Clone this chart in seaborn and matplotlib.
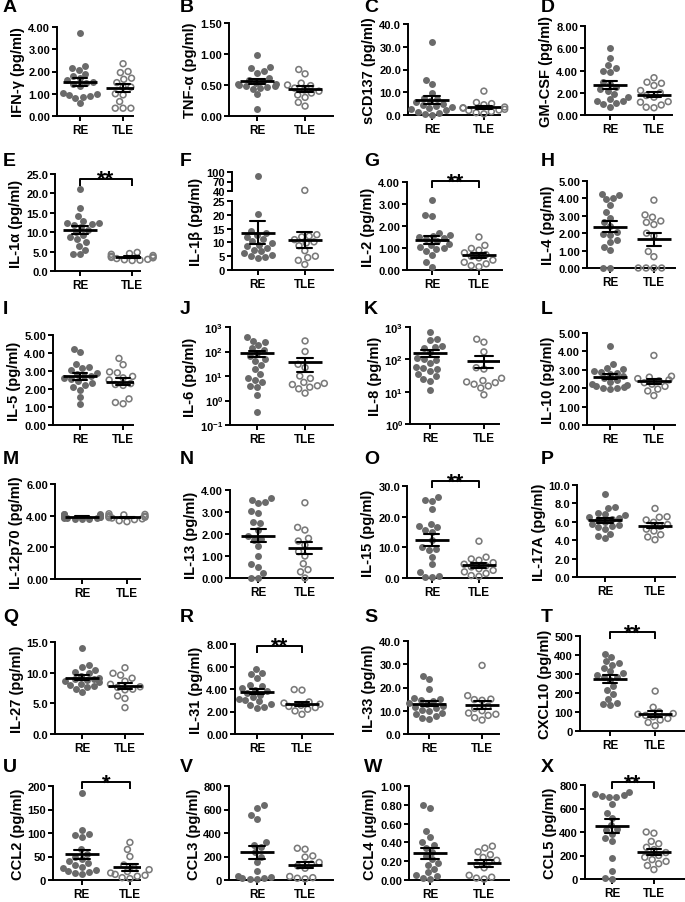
import numpy as np
import pandas as pd
import matplotlib
matplotlib.use("Agg")
import matplotlib.pyplot as plt
import matplotlib.transforms as mtransforms
from matplotlib.ticker import FixedLocator, FixedFormatter, NullLocator
import seaborn as sns

groups = ["RE", "TLE"]

# ---------------- data ----------------
ifng_re = [3.72, 2.25, 2.15, 2.05, 1.90, 1.80, 1.70, 1.60, 1.55, 1.50, 1.45, 1.35, 1.05, 1.00, 0.95, 0.90, 0.85, 0.80, 0.57]
ifng_tle = [2.35, 2.00, 1.95, 1.70, 1.65, 1.50, 1.30, 1.30, 1.00, 0.95, 0.65, 0.35, 0.35, 0.35]
tnfa_re = [0.99, 0.79, 0.77, 0.72, 0.70, 0.62, 0.58, 0.56, 0.54, 0.52, 0.51, 0.50, 0.49, 0.48, 0.47, 0.45, 0.44, 0.35, 0.12]
tnfa_tle = [0.75, 0.68, 0.53, 0.50, 0.49, 0.45, 0.42, 0.40, 0.37, 0.34, 0.30, 0.22, 0.16]
scd137_re = [32.0, 15.5, 13.8, 9.5, 7.5, 7.0, 6.0, 5.5, 5.0, 4.5, 4.0, 3.5, 3.0, 2.5, 2.0, 1.5, 1.0, 0.5, 0.2]
scd137_tle = [10.5, 5.5, 5.0, 4.5, 3.5, 3.2, 3.0, 2.5, 2.2, 2.0, 1.5, 1.0, 0.5]
gmcsf_re = [6.05, 5.10, 4.50, 4.25, 3.95, 3.90, 3.00, 2.80, 2.50, 2.30, 2.20, 1.90, 1.60, 1.40, 1.30, 1.25, 1.10, 1.00, 0.75]
gmcsf_tle = [3.35, 2.95, 2.85, 2.65, 2.20, 2.00, 1.75, 1.60, 1.20, 1.15, 0.90, 0.70, 0.65]
il1a_re = [21.2, 16.3, 14.3, 13.0, 12.5, 12.0, 12.3, 11.8, 11.3, 10.5, 10.0, 9.3, 8.8, 8.2, 7.4, 6.5, 5.5, 4.5, 4.3]
il1a_tle = [4.8, 4.5, 4.3, 4.0, 3.8, 3.6, 3.5, 3.4, 3.2, 3.0, 2.9, 2.8, 2.7]
il1b_re = [88, 20.3, 14.2, 13.5, 12.8, 12.0, 11.2, 10.5, 9.8, 9.2, 8.6, 8.0, 7.4, 6.8, 6.0, 5.5, 5.0, 4.8, 4.5]
il1b_tle = [42, 12.8, 12.0, 12.3, 11.0, 10.2, 9.8, 8.8, 7.0, 5.0, 4.5, 3.5, 2.0]
il2_re = [3.20, 2.50, 2.45, 1.70, 1.60, 1.55, 1.50, 1.45, 1.40, 1.30, 1.20, 1.15, 1.05, 1.00, 0.95, 0.85, 0.70, 0.35, 0.15]
il2_tle = [1.50, 1.12, 0.98, 0.90, 0.78, 0.70, 0.62, 0.55, 0.45, 0.35, 0.28, 0.20, 0.15]
il4_re = [4.28, 4.20, 4.02, 3.95, 3.62, 3.22, 2.90, 2.65, 2.40, 2.05, 1.95, 1.90, 1.60, 1.50, 1.22, 1.02, 0.0, 0.0]
il4_tle = [3.90, 3.05, 2.92, 2.70, 2.62, 2.50, 2.00, 1.85, 0.95, 0.65, 0.0, 0.0, 0.0, 0.0]
il5_re = [4.25, 4.05, 3.40, 3.25, 3.15, 3.05, 2.90, 2.85, 2.75, 2.70, 2.60, 2.55, 2.45, 2.35, 2.25, 2.10, 1.95, 1.55, 1.15]
il5_tle = [3.70, 3.35, 2.95, 2.90, 2.70, 2.62, 2.50, 2.30, 2.25, 2.20, 1.45, 1.25, 1.18]
il6_re = [380, 280, 250, 180, 140, 110, 90, 65, 50, 40, 28, 20, 12, 8.5, 7.0, 5.5, 4.0, 3.5, 1.7, 0.35]
il6_tle = [270, 100, 30, 22, 10, 8, 5.5, 5, 4.5, 4.0, 3.5, 3.0, 2.0]
il8_re = [700, 420, 400, 260, 240, 220, 170, 110, 100, 95, 75, 60, 55, 50, 45, 35, 30, 25, 22, 11]
il8_tle = [420, 340, 170, 55, 50, 26, 22, 20, 19, 17, 15, 13, 8]
il10_re = [4.32, 3.32, 3.10, 3.05, 2.95, 2.90, 2.85, 2.75, 2.65, 2.55, 2.45, 2.35, 2.25, 2.20, 2.10, 2.05, 2.02, 2.00, 1.95]
il10_tle = [3.78, 2.65, 2.60, 2.52, 2.45, 2.40, 2.30, 2.22, 2.10, 1.95, 1.85, 1.60]
il12_re = [4.12, 4.10, 4.08, 4.05, 4.02, 4.00, 3.98, 3.97, 3.96, 3.95, 3.93, 3.92, 3.90, 3.88, 3.86, 3.84, 3.82, 3.80, 3.78]
il12_tle = [4.12, 4.08, 4.05, 4.00, 3.96, 3.93, 3.90, 3.88, 3.85, 3.80, 3.75, 3.68, 3.62]
il13_re = [3.65, 3.55, 3.45, 3.40, 3.05, 2.95, 2.55, 2.50, 2.20, 1.90, 1.78, 1.72, 1.45, 1.02, 0.62, 0.50, 0.25, 0.0, 0.0]
il13_tle = [3.42, 2.30, 2.18, 1.80, 1.68, 1.50, 1.20, 1.00, 0.65, 0.38, 0.28, 0.0]
il15_re = [26.5, 25.5, 25.2, 22.5, 17.5, 17.0, 16.5, 15.5, 15.0, 12.5, 10.0, 9.5, 9.0, 7.0, 4.5, 2.0, 0.5, 0.3, 0.2]
il15_tle = [12.0, 6.8, 6.2, 5.8, 5.0, 4.5, 4.0, 3.6, 3.0, 2.5, 2.0, 1.5, 0.8, 0.5]
il17a_re = [9.0, 7.6, 7.5, 7.0, 6.8, 6.7, 6.5, 6.4, 6.3, 6.2, 6.0, 5.8, 5.6, 5.4, 5.5, 5.2, 4.7, 4.5, 4.2]
il17a_tle = [7.45, 6.55, 6.50, 6.20, 5.95, 5.70, 5.50, 5.20, 5.00, 4.60, 4.35, 4.05]
il27_re = [14.0, 11.3, 11.0, 10.5, 10.1, 9.9, 9.5, 9.2, 9.0, 8.9, 8.8, 8.6, 8.4, 8.2, 8.0, 7.8, 7.6, 7.4, 6.8]
il27_tle = [10.8, 9.9, 9.6, 9.1, 8.6, 8.1, 7.7, 7.3, 7.6, 7.2, 6.2, 5.8, 4.3]
il31_re = [5.75, 5.40, 5.30, 4.95, 4.40, 4.25, 4.10, 3.95, 3.80, 3.65, 3.50, 3.30, 3.10, 3.00, 2.90, 2.70, 2.55, 2.40, 2.30]
il31_tle = [3.95, 3.90, 2.85, 2.75, 2.65, 2.55, 2.45, 2.35, 2.20, 2.05, 1.75]
il33_re = [25.0, 23.5, 19.5, 15.5, 15.0, 14.5, 14.0, 13.2, 12.8, 12.2, 11.8, 11.0, 10.5, 10.0, 9.2, 8.6, 7.8, 7.0, 6.5]
il33_tle = [29.5, 16.5, 15.0, 14.8, 14.5, 12.0, 11.0, 10.0, 9.0, 8.5, 8.0, 7.0, 6.0]
cxcl10_re = [405, 392, 368, 360, 350, 330, 315, 305, 295, 285, 285, 270, 235, 215, 195, 170, 145, 140, 135]
cxcl10_tle = [210, 125, 100, 92, 88, 82, 75, 66, 58, 45, 28]
ccl2_re = [185, 107, 97, 95, 92, 65, 55, 48, 44, 40, 36, 32, 28, 25, 22, 20, 18, 14, 12]
ccl2_tle = [80, 65, 50, 32, 26, 22, 18, 15, 12, 10, 8, 5, 3]
ccl3_re = [635, 610, 550, 520, 320, 300, 280, 240, 200, 150, 75, 35, 25, 20, 15, 10, 8]
ccl3_tle = [270, 262, 205, 195, 150, 135, 120, 100, 30, 20, 15, 10]
ccl4_re = [0.80, 0.77, 0.52, 0.46, 0.40, 0.37, 0.34, 0.30, 0.26, 0.22, 0.18, 0.16, 0.12, 0.08, 0.05, 0.04, 0.02, 0.01]
ccl4_tle = [0.36, 0.34, 0.30, 0.27, 0.24, 0.21, 0.19, 0.16, 0.13, 0.05, 0.03, 0.02, 0.01]
ccl5_re = [740, 725, 715, 705, 700, 695, 640, 560, 520, 460, 425, 415, 380, 345, 320, 180, 70, 5, 3]
ccl5_tle = [400, 390, 320, 300, 270, 250, 225, 200, 185, 165, 150, 130, 115, 80]

panel_letters = list("ABCDEFGHIJKLMNOPQRSTUVWX")

# ---------------- style ----------------
sns.set_theme(style="ticks")
plt.rcParams.update({
    "font.family": ["Liberation Sans", "DejaVu Sans"],
    "font.weight": "bold",
    "axes.labelweight": "bold",
    "mathtext.fontset": "custom",
    "mathtext.rm": "Liberation Sans:bold",
    "mathtext.bf": "Liberation Sans:bold",
    "mathtext.it": "Liberation Sans:bold",
    "axes.edgecolor": "black",
    "xtick.color": "black",
    "ytick.color": "black",
    "text.color": "black",
    "axes.labelcolor": "black",
})

FILL = "#6a6a6a"
EDGE = "#7a7a7a"
W, H = 685, 903
fig = plt.figure(figsize=(W / 100, H / 100), dpi=100)
fig.patch.set_facecolor("white")


def add_ax(box):
    l, t, r, b = box
    return fig.add_axes([l / W, 1 - b / H, (r - l) / W, (b - t) / H])


def make_df(re, tle):
    return pd.DataFrame({"group": ["RE"] * len(re) + ["TLE"] * len(tle),
                         "value": list(re) + list(tle)})


def draw_points(ax, df):
    sns.swarmplot(data=df[df.group == "RE"], x="group", y="value", order=groups,
                  color=FILL, size=5.0, linewidth=0, clip_on=False,
                  warn_thresh=1, ax=ax)
    sns.swarmplot(data=df[df.group == "TLE"], x="group", y="value", order=groups,
                  color=EDGE, edgecolor=EDGE, facecolor="none", size=4.2,
                  linewidth=1.15, clip_on=False, warn_thresh=1, ax=ax)
    # seaborn also creates an empty scatter for the absent category; an empty,
    # unclipped collection would paint one marker at the figure origin
    for coll in list(ax.collections):
        if len(coll.get_offsets()) == 0:
            coll.remove()


def draw_mean(ax, df):
    sns.pointplot(data=df, x="group", y="value", order=groups, errorbar="se",
                  color="black", linestyle="none", marker="_", markersize=24,
                  markeredgewidth=2.0, capsize=0.32,
                  err_kws={"linewidth": 1.5, "zorder": 6}, zorder=6, ax=ax)


def style(ax, ylabel, xlim, ticks, labels, ylim, labelpad=2):
    ax.set_xlim(*xlim)
    ax.set_ylim(*ylim)
    ax.yaxis.set_major_locator(FixedLocator(ticks))
    ax.yaxis.set_major_formatter(FixedFormatter(labels))
    ax.yaxis.set_minor_locator(NullLocator())
    ax.set_xlabel("")
    ax.set_ylabel(ylabel, fontsize=10.5, fontweight="bold", labelpad=labelpad)
    for s in ["top", "right"]:
        ax.spines[s].set_visible(False)
    for s in ["left", "bottom"]:
        ax.spines[s].set_linewidth(1.4)
    ax.tick_params(axis="both", which="major", direction="out", length=3.5, width=1.4)
    ax.tick_params(axis="y", labelsize=8, pad=1.5)
    ax.tick_params(axis="x", labelsize=8.5, pad=2)
    ax.set_facecolor("none")


def bracket(ax, text, yb, box):
    tr = mtransforms.blended_transform_factory(ax.transData, ax.transAxes)
    leg = 7.0 / (box[3] - box[1])
    ax.plot([0, 0, 1, 1], [yb - leg, yb, yb, yb - leg], transform=tr,
            color="black", lw=1.4, clip_on=False, solid_capstyle="butt")
    ax.annotate(text, xy=(0.5, yb), xycoords=tr, xytext=(0, -4.5),
                textcoords="offset points", ha="center", va="baseline",
                fontsize=16, fontweight="bold", annotation_clip=False)


linear_panels = [
    dict(re=ifng_re, tle=ifng_tle, ylabel="IFN-γ (pg/ml)", ymax=4, step=1, fmt="{:.2f}",
         box=(57, 28, 133, 117), xlim=(-0.53, 1.23)),
    dict(re=tnfa_re, tle=tnfa_tle, ylabel="TNF-α (pg/ml)", ymax=1.5, step=0.5, fmt="{:.2f}",
         box=(229, 24, 333, 117), xlim=(-0.58, 1.58)),
    dict(re=scd137_re, tle=scd137_tle, ylabel="sCD137 (pg/ml)", ymax=40, step=10, fmt="{:.1f}",
         box=(408, 25, 500, 116), xlim=(-0.46, 1.31)),
    dict(re=gmcsf_re, tle=gmcsf_tle, ylabel="GM-CSF (pg/ml)", ymax=8, step=2, fmt="{:.2f}",
         box=(585, 27, 672, 116), xlim=(-0.57, 1.41)),
    dict(re=il1a_re, tle=il1a_tle, ylabel="IL-1α (pg/ml)", ymax=25, step=5, fmt="{:.1f}",
         box=(55, 175, 140, 272), xlim=(-0.48, 1.15), sig="**", sig_y=0.95),
    dict(re=il2_re, tle=il2_tle, ylabel="IL-2 (pg/ml)", ymax=4, step=1, fmt="{:.2f}",
         box=(407, 183, 502, 271), xlim=(-0.53, 1.49), sig="**", sig_y=1.01),
    dict(re=il4_re, tle=il4_tle, ylabel="IL-4 (pg/ml)", ymax=5, step=1, fmt="{:.2f}",
         box=(587, 182, 675, 269), xlim=(-0.52, 1.48)),
    dict(re=il5_re, tle=il5_tle, ylabel="IL-5 (pg/ml)", ymax=5, step=1, fmt="{:.2f}",
         box=(53, 336, 133, 426), xlim=(-0.63, 1.23)),
    dict(re=il10_re, tle=il10_tle, ylabel="IL-10 (pg/ml)", ymax=5, step=1, fmt="{:.2f}",
         box=(587, 334, 675, 426), xlim=(-0.52, 1.48)),
    dict(re=il12_re, tle=il12_tle, ylabel="IL-12p70 (pg/ml)", ymax=6, step=2, fmt="{:.2f}",
         box=(55, 485, 140, 580), xlim=(-0.6, 1.29)),
    dict(re=il13_re, tle=il13_tle, ylabel="IL-13 (pg/ml)", ymax=4, step=1, fmt="{:.2f}",
         box=(230, 491, 333, 579), xlim=(-0.6, 1.6)),
    dict(re=il15_re, tle=il15_tle, ylabel="IL-15 (pg/ml)", ymax=30, step=10, fmt="{:.1f}",
         box=(407, 487, 502, 579), xlim=(-0.53, 1.49), sig="**", sig_y=1.05),
    dict(re=il17a_re, tle=il17a_tle, ylabel="IL-17A (pg/ml)", ymax=10, step=2, fmt="{:.1f}",
         box=(577, 486, 675, 578), xlim=(-0.56, 1.4)),
    dict(re=il27_re, tle=il27_tle, ylabel="IL-27 (pg/ml)", ymax=15, step=5, fmt="{:.1f}",
         box=(55, 643, 143, 735), xlim=(-0.63, 1.42)),
    dict(re=il31_re, tle=il31_tle, ylabel="IL-31 (pg/ml)", ymax=8, step=2, fmt="{:.2f}",
         box=(235, 645, 333, 735), xlim=(-0.49, 1.69), sig="**", sig_y=0.98),
    dict(re=il33_re, tle=il33_tle, ylabel="IL-33 (pg/ml)", ymax=40, step=10, fmt="{:.1f}",
         box=(408, 642, 499, 735), xlim=(-0.4, 1.32)),
    dict(re=cxcl10_re, tle=cxcl10_tle, ylabel="CXCL10 (pg/ml)", ymax=500, step=100, fmt="{:.0f}",
         box=(580, 637, 684, 732), xlim=(-0.67, 1.64), sig="**", sig_y=1.04),
    dict(re=ccl2_re, tle=ccl2_tle, ylabel="CCL2 (pg/ml)", ymax=200, step=50, fmt="{:.0f}",
         box=(53, 787, 140, 881), xlim=(-0.6, 1.21), sig="*", sig_y=1.04),
    dict(re=ccl3_re, tle=ccl3_tle, ylabel="CCL3 (pg/ml)", ymax=800, step=200, fmt="{:.0f}",
         box=(229, 787, 333, 881), xlim=(-0.58, 1.58)),
    dict(re=ccl4_re, tle=ccl4_tle, ylabel="CCL4 (μg/ml)", ymax=1.0, step=0.2, fmt="{:.2f}",
         box=(409, 787, 509, 881), xlim=(-0.39, 1.46)),
    dict(re=ccl5_re, tle=ccl5_tle, ylabel="CCL5 (pg/ml)", ymax=800, step=200, fmt="{:.0f}",
         box=(585, 786, 685, 880), xlim=(-0.64, 1.74), sig="**", sig_y=1.03),
]

for p in linear_panels:
    ax = add_ax(p["box"])
    df = make_df(p["re"], p["tle"])
    draw_points(ax, df)
    draw_mean(ax, df)
    ticks = np.round(np.arange(0, p["ymax"] + p["step"] / 2, p["step"]), 6)
    labels = [p["fmt"].format(t) for t in ticks]
    style(ax, p["ylabel"], p["xlim"], ticks, labels, (0, p["ymax"]))
    if p.get("sig"):
        bracket(ax, p["sig"], p["sig_y"], p["box"])

# ---- log panels (J, K) ----
log_panels = [
    dict(re=il6_re, tle=il6_tle, ylabel="IL-6 (pg/ml)", exps=[-1, 0, 1, 2, 3],
         box=(230, 328, 333, 426), xlim=(-0.56, 1.58)),
    dict(re=il8_re, tle=il8_tle, ylabel="IL-8 (pg/ml)", exps=[0, 1, 2, 3],
         box=(410, 328, 499, 425), xlim=(-0.37, 1.28)),
]
for p in log_panels:
    ax = add_ax(p["box"])
    df = make_df(p["re"], p["tle"])
    draw_points(ax, df)
    draw_mean(ax, df)   # arithmetic mean +/- SEM
    ax.set_yscale("log")
    ticks = [10.0 ** e for e in p["exps"]]
    labels = [r"$\mathbf{10^{%d}}$" % e for e in p["exps"]]
    style(ax, p["ylabel"], p["xlim"], ticks, labels, (ticks[0], ticks[-1]))

# ---- broken axis panel (F) ----
f_box_lo = (232, 202, 333, 271)
f_box_hi = (232, 173, 333, 192)
f_xlim = (-0.55, 1.6)
ax_lo = add_ax(f_box_lo)
ax_hi = add_ax(f_box_hi)
df_f = make_df(il1b_re, il1b_tle)
draw_points(ax_lo, df_f[df_f.value <= 25])
draw_points(ax_hi, df_f[df_f.value > 25])
draw_mean(ax_lo, df_f)
style(ax_lo, "IL-1β (pg/ml)", f_xlim, [0, 5, 10, 15, 20, 25],
      ["0", "5", "10", "15", "20", "25"], (0, 25))
ax_lo.yaxis.set_label_coords(-0.29, 0.71)
style(ax_hi, "", f_xlim, [40, 70, 100], ["40", "70", "100"], (40, 100))
ax_hi.spines["bottom"].set_visible(False)
ax_hi.tick_params(axis="x", bottom=False, labelbottom=False)

# ---- panel letters ----
letter_x = [3, 180, 364, 541]
letter_top = [3, 157, 305, 455, 613, 763]
for i, L in enumerate(panel_letters):
    fig.text(letter_x[i % 4] / W, 1 - (letter_top[i // 4] - 4) / H, L,
             fontsize=14, fontweight="bold", ha="left", va="top")

fig.savefig("out.png", dpi=100, facecolor="white")
